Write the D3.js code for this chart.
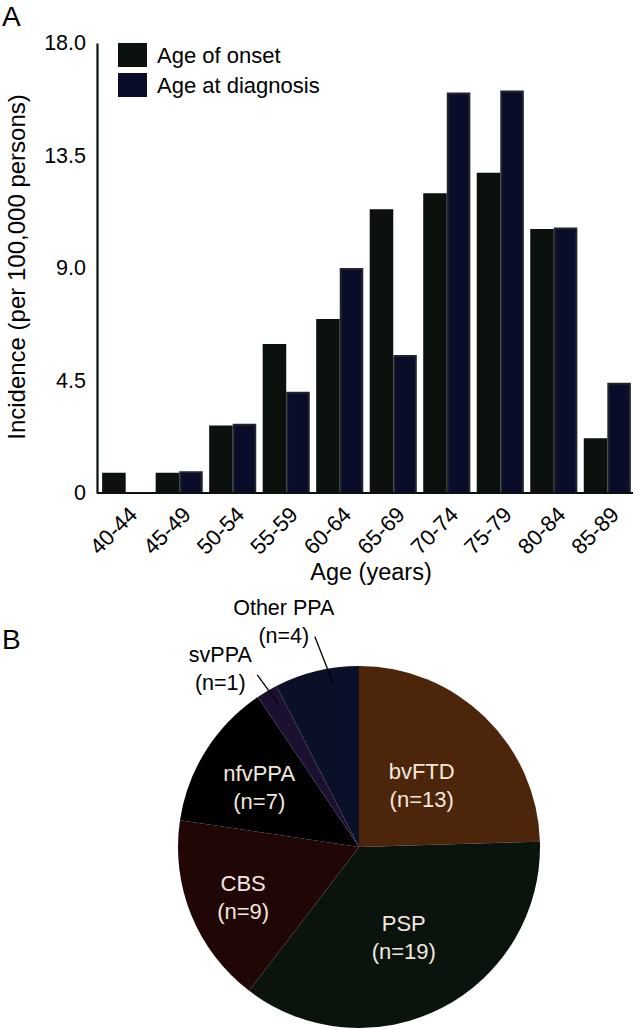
<!DOCTYPE html>
<html>
<head>
<meta charset="utf-8">
<script src="https://cdn.jsdelivr.net/npm/d3@7"></script>
<style>
html,body{margin:0;padding:0;background:#fff;}
svg{display:block;font-family:"Liberation Sans",Arial,Helvetica,sans-serif;}
</style>
</head>
<body>
<svg id="chart" width="636" height="1029"></svg>
<script>
// ---- Data ----
const ageGroups = ["40-44","45-49","50-54","55-59","60-64","65-69","70-74","75-79","80-84","85-89"];
const onsetValues = [0.81, 0.81, 2.70, 5.96, 6.96, 11.35, 11.99, 12.81, 10.56, 2.19];
const diagnosisValues = [0, 0.87, 2.77, 4.05, 9.0, 5.52, 16.02, 16.10, 10.62, 4.41];
const seriesNames = ["Age of onset", "Age at diagnosis"];
const yTicks = [0, 4.5, 9.0, 13.5, 18.0];
const yTickLabels = ["0", "4.5", "9.0", "13.5", "18.0"];

const pieLabels = ["bvFTD", "PSP", "CBS", "nfvPPA", "svPPA", "Other PPA"];
const pieCounts = [13, 19, 9, 7, 1, 4];

// ---- Styles ----
const onsetColor = "#0b110d";
const diagColor = "#0a0d2a";
const diagStroke = "#24242e";
const pieColors = ["#4d250a", "#0b130d", "#200605", "#000000", "#1c1030", "#0b1029"];

const svg = d3.select("#chart");

// ---- Panel A ----
const y = d3.scaleLinear().domain([0, 18]).range([493, 43]);
const x = d3.scaleBand().domain(ageGroups).range([100, 633]).paddingInner(0.12).paddingOuter(0.04);
const xs = d3.scaleBand().domain([0, 1]).range([0, x.bandwidth()]);

svg.append("text").attr("x", 2).attr("y", 26).attr("font-size", 28).text("A");

const rows = ageGroups.map((g, i) => ({g, v: [onsetValues[i], diagnosisValues[i]]}));

const grp = svg.append("g").selectAll("g").data(rows).join("g")
  .attr("transform", d => `translate(${x(d.g)},0)`);

grp.selectAll("rect").data(d => d.v.map((v, k) => ({v, k}))).join("rect")
  .filter(d => d.v > 0)
  .attr("x", d => xs(d.k) + (d.k === 1 ? 1 : 0))
  .attr("width", d => xs.bandwidth() - (d.k === 1 ? 2 : 0))
  .attr("y", d => y(d.v) + (d.k === 1 ? 1 : 0))
  .attr("height", d => y(0) - y(d.v) - (d.k === 1 ? 1 : 0))
  .attr("fill", d => d.k === 0 ? onsetColor : diagColor)
  .attr("stroke", d => d.k === 1 ? diagStroke : "none")
  .attr("stroke-width", 2);

// y axis
const yAxis = d3.axisLeft(y).tickValues(yTicks).tickFormat((d, i) => yTickLabels[i]).tickSize(0).tickPadding(11);
const yg = svg.append("g").attr("transform", "translate(97,0)").call(yAxis);
yg.select(".domain").attr("stroke", onsetColor).attr("stroke-width", 2.2);
yg.selectAll("text").attr("font-size", 21.5).attr("fill", "#000").attr("font-family", "Liberation Sans, Arial, sans-serif");

// x axis
const xAxis = d3.axisBottom(x).tickSize(0).tickPadding(0);
const xg = svg.append("g").attr("transform", "translate(0,493)").call(xAxis);
xg.select(".domain").attr("d", "M97,0H633").attr("stroke", onsetColor).attr("stroke-width", 2.2);
xg.selectAll("text")
  .attr("font-size", 22).attr("fill", "#000").attr("font-family", "Liberation Sans, Arial, sans-serif")
  .attr("text-anchor", "end").attr("dy", null).attr("y", 0)
  .attr("transform", "translate(13,23) rotate(-45)");

svg.append("text").attr("x", 371).attr("y", 580).attr("text-anchor", "middle").attr("font-size", 23.5).text("Age (years)");
svg.append("text").attr("transform", "translate(25,267) rotate(-90)").attr("text-anchor", "middle").attr("font-size", 24)
  .text("Incidence (per 100,000 persons)");

// legend
const leg = svg.append("g").selectAll("g").data(seriesNames).join("g")
  .attr("transform", (d, i) => `translate(118,${43 + i * 30})`);
leg.append("rect").attr("width", 29).attr("height", 24).attr("fill", (d, i) => i === 0 ? onsetColor : diagColor);
leg.append("text").attr("x", 39).attr("y", 20).attr("font-size", 22).text(d => d);

// ---- Panel B ----
svg.append("text").attr("x", 2).attr("y", 649).attr("font-size", 28).text("B");

const cx = 359, cy = 847, R = 181;
const pie = d3.pie().sort(null).value(d => d.n);
const pdata = pie(pieLabels.map((l, i) => ({l, n: pieCounts[i], c: pieColors[i]})));
const arc = d3.arc().innerRadius(0).outerRadius(R);
const pg = svg.append("g").attr("transform", `translate(${cx},${cy})`);
pg.selectAll("path").data(pdata).join("path").attr("d", arc).attr("fill", d => d.data.c);

const insideRadius = {"bvFTD": 90, "PSP": 98, "CBS": 125, "nfvPPA": 118};
const mid = d => (d.startAngle + d.endAngle) / 2;
const inside = pdata.filter(d => insideRadius[d.data.l]);
const it = pg.selectAll("text.in").data(inside).join("text")
  .attr("class", "in").attr("text-anchor", "middle").attr("font-size", 22).attr("fill", "#f2e8df")
  .attr("transform", d => {
    const r = insideRadius[d.data.l], a = mid(d);
    return `translate(${r * Math.sin(a)},${-r * Math.cos(a)})`;
  });
it.append("tspan").attr("x", 0).attr("y", -3).text(d => d.data.l);
it.append("tspan").attr("x", 0).attr("y", 25).text(d => `(n=${d.data.n})`);

// outside labels with leader lines
const outside = pdata.filter(d => !insideRadius[d.data.l]);
const lineR = {"svPPA": [165, 200], "Other PPA": [166, 215]};
const angOff = {"svPPA": [0.02, 0.0], "Other PPA": [0.08, 0.03]};
const textOff = {"svPPA": [-37, -13], "Other PPA": [-31, -22]};
outside.forEach(d => {
  const [r1, r2] = lineR[d.data.l], [o1, o2] = angOff[d.data.l];
  const a1 = mid(d) + o1, a2 = mid(d) + o2;
  const x1 = r1 * Math.sin(a1), y1 = -r1 * Math.cos(a1);
  const x2 = r2 * Math.sin(a2), y2 = -r2 * Math.cos(a2);
  pg.append("line").attr("x1", x1).attr("y1", y1).attr("x2", x2).attr("y2", y2)
    .attr("stroke", "#000").attr("stroke-width", 1.3);
  const [tx, ty] = textOff[d.data.l];
  const t = pg.append("text").attr("text-anchor", "middle").attr("font-size", 21.5).attr("fill", "#000")
    .attr("transform", `translate(${x2 + tx},${y2 + ty})`);
  t.append("tspan").attr("x", 0).attr("y", 0).text(d.data.l);
  t.append("tspan").attr("x", 0).attr("y", 28).text(`(n=${d.data.n})`);
});
</script>
</body>
</html>
